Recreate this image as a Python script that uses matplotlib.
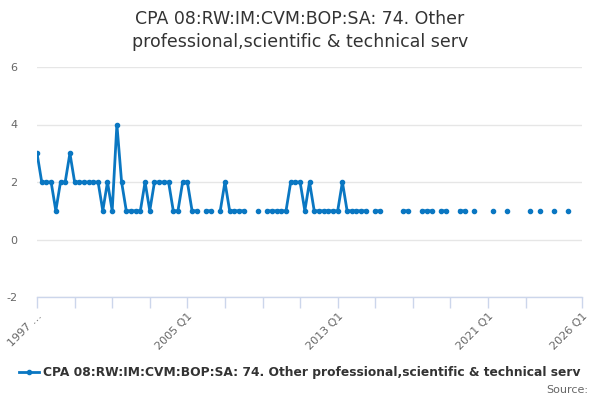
import matplotlib
matplotlib.use("Agg")
import matplotlib.pyplot as plt
import numpy as np

plt.rcParams["axes.unicode_minus"] = False

nan = np.nan

# quarterly values from 1997 Q1 onwards (nan = no value published)
values = [
    3, 2, 2, 2, 1, 2, 2, 3, 2, 2, 2, 2, 2, 2, 1, 2,
    1, 4, 2, 1, 1, 1, 1, 2, 1, 2, 2, 2, 2, 1, 1, 2,
    2, 1, 1, nan, 1, 1, nan, 1, 2, 1, 1, 1, 1, nan, nan, 1,
    nan, 1, 1, 1, 1, 1, 2, 2, 2, 1, 2, 1, 1, 1, 1, 1,
    1, 2, 1, 1, 1, 1, 1, nan, 1, 1, nan, nan, nan, nan, 1, 1,
    nan, nan, 1, 1, 1, nan, 1, 1, nan, nan, 1, 1, nan, 1, nan, nan,
    nan, 1, nan, nan, 1, nan, nan, nan, nan, 1, nan, 1, nan, nan, 1, nan,
    nan, 1,
]
start_year = 1997
end_year = 2026

tick_years = list(range(1997, 2024, 2)) + [2026]
label_text = {1997: "1997 …", 2005: "2005 Q1", 2013: "2013 Q1",
              2021: "2021 Q1", 2026: "2026 Q1"}

title = "CPA 08:RW:IM:CVM:BOP:SA: 74. Other\nprofessional,scientific & technical serv"
series_name = "CPA 08:RW:IM:CVM:BOP:SA: 74. Other professional,scientific & technical serv"

line_color = "#0a77c2"

x = np.array([start_year + i / 4 for i in range(len(values))])
y = np.array(values, dtype=float)

fig = plt.figure(figsize=(6, 4), dpi=100)
ax = fig.add_axes([0.0617, 0.2575, 0.9083, 0.575])

ax.plot(x, y, color=line_color, lw=2, marker="o", ms=3,
        label=series_name)

ax.set_xlim(start_year, end_year)
ax.set_ylim(-2, 6)
ax.set_yticks([-2, 0, 2, 4, 6])
ax.grid(axis="y", color="#e6e6e6", lw=1)
ax.set_axisbelow(True)

for s in ["top", "right", "left"]:
    ax.spines[s].set_visible(False)
ax.spines["bottom"].set_color("#ccd6eb")
ax.spines["bottom"].set_linewidth(1)

ax.set_xticks(tick_years)
ax.set_xticklabels([label_text.get(t, "") for t in tick_years],
                   rotation=45, ha="right", rotation_mode="anchor",
                   fontsize=8, color="#666666")
ax.tick_params(axis="x", length=8, color="#ccd6eb", width=1, pad=2)
ax.tick_params(axis="y", length=0, labelsize=8, labelcolor="#666666", pad=14)

fig.suptitle(title, y=0.975, fontsize=12.5, color="#333333", linespacing=1.35)

leg = fig.legend(loc="center", bbox_to_anchor=(0.5, 0.068), frameon=False,
                 handlelength=1.6, handletextpad=0.4,
                 prop={"weight": "bold", "size": 8.8})
for t in leg.get_texts():
    t.set_color("#333333")

fig.text(0.98, 0.025, "Source:", ha="right", va="center", fontsize=8,
         color="#666666")

fig.savefig("out.png", dpi=100)
